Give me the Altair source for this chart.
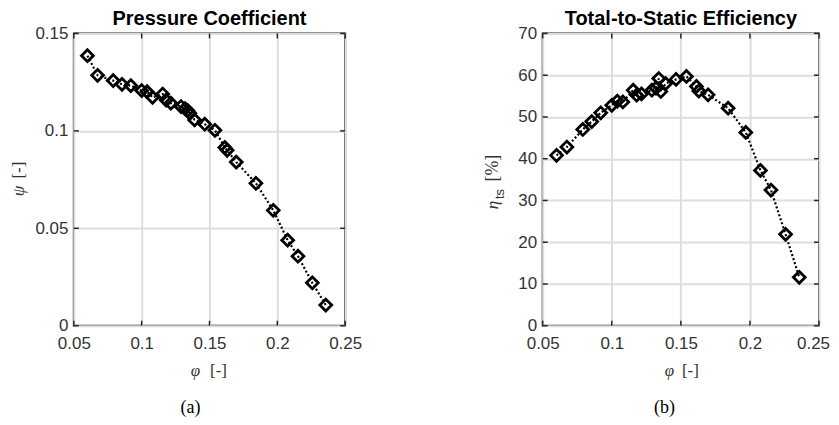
import altair as alt
import pandas as pd

# flow coefficient (shared by both panels)
phi = [0.060, 0.0675, 0.079, 0.0855, 0.092, 0.100, 0.104, 0.108, 0.1155, 0.118,
       0.1215, 0.129, 0.132, 0.134, 0.1355, 0.139, 0.1465, 0.154, 0.1613, 0.163,
       0.1697, 0.1842, 0.197, 0.2076, 0.2152, 0.2258, 0.2357]
# pressure coefficient
psi = [0.1386, 0.1285, 0.1258, 0.1239, 0.1232, 0.1207, 0.1201, 0.1172, 0.1189, 0.1158,
       0.1142, 0.1125, 0.1114, 0.1104, 0.1090, 0.1056, 0.1034, 0.1003, 0.0915, 0.0900,
       0.0840, 0.0731, 0.0592, 0.0439, 0.0357, 0.0220, 0.0106]
# total-to-static efficiency [%]
eta = [40.8, 42.8, 47.0, 48.9, 51.0, 52.8, 53.8, 53.6, 56.4, 55.2,
       55.5, 56.4, 56.9, 59.2, 56.1, 58.0, 59.0, 59.7, 57.3, 56.2,
       55.3, 52.1, 46.3, 37.2, 32.5, 21.9, 11.6]

x_ticks = [0.05, 0.10, 0.15, 0.20, 0.25]
psi_ticks = [0.0, 0.05, 0.10, 0.15]
eta_ticks = [0, 10, 20, 30, 40, 50, 60, 70]

df = pd.DataFrame({"idx": list(range(len(phi))), "phi": phi, "psi": psi, "eta": eta})
one = pd.DataFrame({"k": [0]})

H = 293
FRAME = "#262626"
LABEL = "#333333"
GRID = "#dedede"
SERIF = "Liberation Serif"
SANS = "Liberation Sans"


def text(t, x, y, size=17, font=SERIF, style="normal", weight="normal",
         angle=0, color=LABEL):
    return alt.Chart(one).mark_text(
        text=t, font=font, fontSize=size, fontStyle=style, fontWeight=weight,
        angle=angle, color=color, align="center", baseline="middle",
    ).encode(x=alt.value(x), y=alt.value(y))


def panel(ycol, ydom, yticks, yfmt, W, title, ytitle_layers, xt, caption, cap_x,
          last_shift):
    xs = alt.Scale(domain=[0.05, 0.25], nice=False, zero=False)
    ys = alt.Scale(domain=ydom, nice=False, zero=False)
    xax = alt.Axis(values=x_ticks, format=".2~f", title=None, grid=True,
                   gridColor=GRID, gridWidth=2, ticks=False, domain=False,
                   labelFlush=False, labelOverlap=False,
                   labelOffset={"condition": {"test": "datum.value > 0.24",
                                              "value": last_shift}, "value": 0},
                   labelFont=SANS, labelFontSize=17, labelColor=LABEL, labelPadding=10)
    yax = alt.Axis(values=yticks, format=yfmt, title=None, grid=True,
                   gridColor=GRID, gridWidth=2, ticks=False, domain=False,
                   labelFlush=False, labelOverlap=False,
                   labelFont=SANS, labelFontSize=17, labelColor=LABEL, labelPadding=6)
    base = alt.Chart(df).encode(
        x=alt.X("phi:Q", scale=xs, axis=xax),
        y=alt.Y(f"{ycol}:Q", scale=ys, axis=yax),
    )
    line = base.mark_line(color="black", strokeWidth=2.2, strokeDash=[2, 2.2]).encode(
        order="idx:Q")
    pts = base.mark_point(shape="diamond", filled=False, size=140, strokeWidth=2.8,
                          color="black", opacity=1)

    xt_df = pd.DataFrame({"v": x_ticks})
    yt_df = pd.DataFrame({"v": yticks})
    tb = alt.Chart(xt_df).mark_rule(color=FRAME, strokeWidth=1.5).encode(
        x=alt.X("v:Q", scale=xs, axis=xax), y=alt.value(H), y2=alt.value(H - 5))
    tt = alt.Chart(xt_df).mark_rule(color=FRAME, strokeWidth=1.5).encode(
        x=alt.X("v:Q", scale=xs, axis=xax), y=alt.value(0), y2=alt.value(5))
    tl = alt.Chart(yt_df).mark_rule(color=FRAME, strokeWidth=1.5).encode(
        y=alt.Y("v:Q", scale=ys, axis=yax), x=alt.value(0), x2=alt.value(5))
    tr = alt.Chart(yt_df).mark_rule(color=FRAME, strokeWidth=1.5).encode(
        y=alt.Y("v:Q", scale=ys, axis=yax), x=alt.value(W - 5), x2=alt.value(W))

    layers = [line, pts, tb, tt, tl, tr]
    layers.append(text(title, W / 2, -14, size=20, font=SANS, weight="bold",
                       color="black"))
    layers += ytitle_layers
    layers.append(text("φ", xt[0], 338, style="italic"))
    layers.append(text("[-]", xt[1], 338))
    layers.append(text(caption, cap_x, 375, size=18, color="black"))
    return alt.layer(*layers).properties(width=W, height=H)


left = panel(
    "psi", [0, 0.15], psi_ticks, ".2~f", 272, "Pressure Coefficient",
    [text("ψ", -55, 158, style="italic", angle=270),
     text("[-]", -55, 137, angle=270)],
    (122, 145), "(a)", 117, 0,
)
right = panel(
    "eta", [0, 70], eta_ticks, "d", 277, "Total-to-Static Efficiency",
    [text("η", -50, 172, style="italic", angle=270),
     text("ts", -43, 161, size=13, font=SANS, angle=270),
     text("[%]", -50, 135, size=18, angle=270)],
    (127, 148), "(b)", 122, -6,
)

chart = alt.hconcat(left, right, spacing=198, bounds="flush").properties(
    padding={"left": 1, "top": 0, "right": 0, "bottom": 0}
).configure_view(stroke=FRAME, strokeWidth=2)

chart.save("out.html", embed_options={"renderer": "svg", "actions": False})
